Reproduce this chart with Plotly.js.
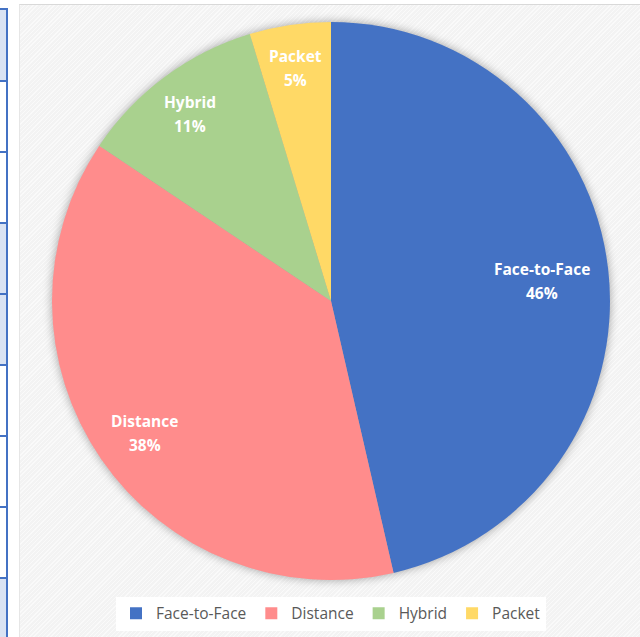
<!DOCTYPE html>
<html>
<head>
<meta charset="utf-8">
<script src="https://cdn.plot.ly/plotly-3.0.1.min.js"></script>
<style>
  html, body { margin: 0; padding: 0; width: 640px; height: 637px; overflow: hidden; background: #ffffff; }
  #strip { position: absolute; left: 0; top: 0; width: 8px; height: 637px; }
  .cell { position: absolute; left: 0; width: 6px; border-top: 2px solid #4472c4; border-right: 2px solid #4472c4; }
  #bg { position: absolute; left: 19px; top: 4px; width: 621px; height: 633px;
        background-color: #f3f3f3;
        background-image: repeating-linear-gradient(135deg, rgba(255,255,255,0.55) 0px, rgba(255,255,255,0.55) 1px, rgba(0,0,0,0) 1px, rgba(0,0,0,0) 3px);
        border-top: 1px solid #d9d9d9; border-left: 1px solid #e6e6e6; }
  #chart { position: absolute; left: 0; top: 0; width: 640px; height: 637px; }
  .pielayer { filter: drop-shadow(0px 0px 5px rgba(0,0,0,0.35)); }
</style>
</head>
<body>
<div id="strip"></div>
<div id="bg"></div>
<div id="chart"></div>
<script>
// Data
const categories = ["Face-to-Face", "Distance", "Hybrid", "Packet"];
const shares = [46.4, 38.0, 10.9, 4.7];
const sliceColors = ["#4472c4", "#ff8c8c", "#a9d18e", "#ffd966"];

// Label placement (fraction of radius, "best fit" style)
const labelRadiusFrac = [0.76, 0.81, 0.85, 0.86];

// Decorative spreadsheet strip on the left
const stripLines = [8, 80, 151, 222, 293, 364, 435, 506, 577];
const stripFill = ["#dae3f3", "#ffffff", "#ffffff", "#dae3f3", "#dae3f3", "#ffffff", "#ffffff", "#ffffff", "#dae3f3"];
const strip = document.getElementById("strip");
for (let i = 0; i < stripLines.length; i++) {
  const d = document.createElement("div");
  d.className = "cell";
  const top = stripLines[i];
  const bottom = i + 1 < stripLines.length ? stripLines[i + 1] : 650;
  d.style.top = top + "px";
  d.style.height = (bottom - top - 2) + "px";
  d.style.background = stripFill[i];
  strip.appendChild(d);
}

const W = 640, H = 637;
const margin = { l: 52, r: 30, t: 22, b: 57, autoexpand: false };
const plotW = W - margin.l - margin.r;
const plotH = H - margin.t - margin.b;
const radiusPx = Math.min(plotW, plotH) / 2;

const labelFont = { family: "Open Sans, Segoe UI, sans-serif", size: 15.5, color: "#ffffff" };
const total = shares.reduce((a, b) => a + b, 0);
const annotations = [];
let cum = 0;
for (let i = 0; i < shares.length; i++) {
  const mid = (cum + shares[i] / 2) / total * 2 * Math.PI; // clockwise from 12 o'clock
  cum += shares[i];
  const r = radiusPx * labelRadiusFrac[i];
  const x = 0.5 + Math.sin(mid) * r / plotW;
  const y = 0.5 + Math.cos(mid) * r / plotH;
  const lines = ["<b>" + categories[i] + "</b>", "<b>" + Math.round(shares[i] / total * 100) + "%</b>"];
  [8, -16].forEach((shift, k) => {
    annotations.push({
      xref: "paper", yref: "paper", x: x, y: y, yshift: shift,
      xanchor: "center", yanchor: "middle", showarrow: false,
      text: lines[k], font: labelFont
    });
  });
}

const trace = {
  type: "pie",
  labels: categories,
  values: shares,
  sort: false,
  direction: "clockwise",
  rotation: 0,
  marker: { colors: sliceColors, line: { width: 0 } },
  textinfo: "none",
  hoverinfo: "none"
};

const layout = {
  width: W,
  height: H,
  margin: margin,
  paper_bgcolor: "rgba(0,0,0,0)",
  plot_bgcolor: "rgba(0,0,0,0)",
  showlegend: true,
  annotations: annotations,
  legend: {
    orientation: "h",
    x: 0.5, xanchor: "center",
    y: -0.03, yanchor: "top",
    bgcolor: "#ffffff",
    font: { family: "Open Sans, Segoe UI, sans-serif", size: 15.5, color: "#595959" },
    traceorder: "normal",
    itemclick: false
  }
};

Plotly.newPlot("chart", [trace], layout, { displayModeBar: false, staticPlot: true });
</script>
</body>
</html>
